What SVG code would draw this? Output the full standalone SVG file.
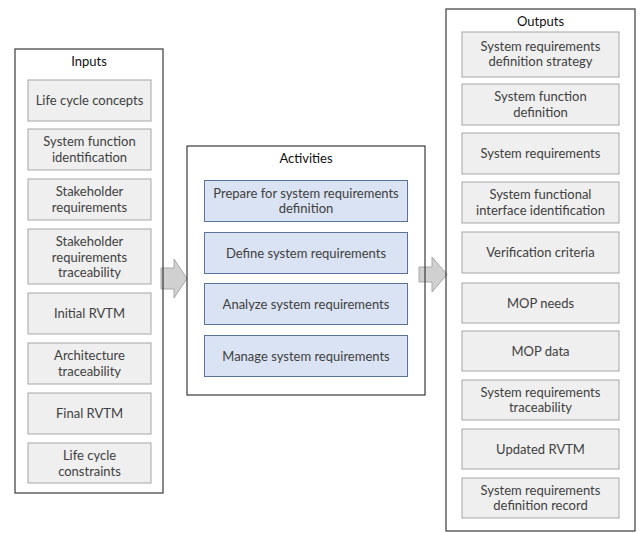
<svg xmlns="http://www.w3.org/2000/svg" width="642" height="533" viewBox="0 0 642 533">
<style>
.outer{fill:none;stroke:#3a3a3a;stroke-width:1.2}
.item{fill:#efefef;stroke:#a6a6a6;stroke-width:1}
.act{fill:#dae3f3;stroke:#5b7397;stroke-width:1}
.t{font-family:Lato,"Liberation Sans",sans-serif;font-size:13px;fill:#404040;text-anchor:middle}
.title{font-family:Lato,"Liberation Sans",sans-serif;font-size:13px;fill:#111;text-anchor:middle}
.arrow{fill:#d0d0d0;stroke:#a8a8a8;stroke-width:1}
</style>
<rect width="642" height="533" fill="#fff"/>
<g id="connectors">
<polygon class="arrow" points="161,268 174,268 174,259 187,278.5 174,298 174,289 161,289"/>
<polygon class="arrow" points="419,267 432,267 432,257 447,274.5 432,292 432,282 419,282"/>
</g>
<g id="inputs">
<rect class="outer" x="15" y="49" width="148" height="444"/>
<text class="title" x="89" y="66">Inputs</text>
</g>
<g id="in1"><rect class="item" x="28" y="80" width="123" height="41"/><text class="t" x="89.5" y="105">Life cycle concepts</text></g>
<g id="in2"><rect class="item" x="28" y="129" width="123" height="41"/><text class="t" x="89.5" y="146">System function</text><text class="t" x="89.5" y="161.5">identification</text></g>
<g id="in3"><rect class="item" x="28" y="179" width="123" height="41"/><text class="t" x="89.5" y="196">Stakeholder</text><text class="t" x="89.5" y="211.5">requirements</text></g>
<g id="in4"><rect class="item" x="28" y="229" width="123" height="55"/><text class="t" x="89.5" y="246">Stakeholder</text><text class="t" x="89.5" y="261.5">requirements</text><text class="t" x="89.5" y="277">traceability</text></g>
<g id="in5"><rect class="item" x="28" y="293" width="123" height="41"/><text class="t" x="89.5" y="318">Initial RVTM</text></g>
<g id="in6"><rect class="item" x="28" y="343" width="123" height="41"/><text class="t" x="89.5" y="360">Architecture</text><text class="t" x="89.5" y="375.5">traceability</text></g>
<g id="in7"><rect class="item" x="28" y="393" width="123" height="41"/><text class="t" x="89.5" y="418">Final RVTM</text></g>
<g id="in8"><rect class="item" x="28" y="443" width="123" height="40"/><text class="t" x="89.5" y="460">Life cycle</text><text class="t" x="89.5" y="475.5">constraints</text></g>
<g id="activities">
<rect class="outer" x="187" y="146" width="238" height="249"/>
<text class="title" x="306" y="163">Activities</text>
</g>
<g id="a1"><rect class="act" x="204.5" y="180.5" width="203" height="41"/><text class="t" x="306" y="198">Prepare for system requirements</text><text class="t" x="306" y="213">definition</text></g>
<g id="a2"><rect class="act" x="204.5" y="232.5" width="203" height="41"/><text class="t" x="306" y="257.5">Define system requirements</text></g>
<g id="a3"><rect class="act" x="204.5" y="283.5" width="203" height="41"/><text class="t" x="306" y="308.5">Analyze system requirements</text></g>
<g id="a4"><rect class="act" x="204.5" y="335.5" width="203" height="41"/><text class="t" x="306" y="360.5">Manage system requirements</text></g>
<g id="outputs">
<rect class="outer" x="446" y="9" width="189" height="522"/>
<text class="title" x="540.5" y="26">Outputs</text>
</g>
<g id="o1"><rect class="item" x="462" y="32" width="157" height="45"/><text class="t" x="540.5" y="50.5">System requirements</text><text class="t" x="540.5" y="66">definition strategy</text></g>
<g id="o2"><rect class="item" x="462" y="84" width="157" height="41"/><text class="t" x="540.5" y="101">System function</text><text class="t" x="540.5" y="116.5">definition</text></g>
<g id="o3"><rect class="item" x="462" y="133" width="157" height="41"/><text class="t" x="540.5" y="158">System requirements</text></g>
<g id="o4"><rect class="item" x="462" y="182" width="157" height="41"/><text class="t" x="540.5" y="199">System functional</text><text class="t" x="540.5" y="214.5">interface identification</text></g>
<g id="o5"><rect class="item" x="462" y="232" width="157" height="41"/><text class="t" x="540.5" y="257">Verification criteria</text></g>
<g id="o6"><rect class="item" x="462" y="283" width="157" height="40"/><text class="t" x="540.5" y="307.5">MOP needs</text></g>
<g id="o7"><rect class="item" x="462" y="331" width="157" height="40"/><text class="t" x="540.5" y="355.5">MOP data</text></g>
<g id="o8"><rect class="item" x="462" y="380" width="157" height="40"/><text class="t" x="540.5" y="396.5">System requirements</text><text class="t" x="540.5" y="412">traceability</text></g>
<g id="o9"><rect class="item" x="462" y="429" width="157" height="40"/><text class="t" x="540.5" y="453.5">Updated RVTM</text></g>
<g id="o10"><rect class="item" x="462" y="478" width="157" height="40"/><text class="t" x="540.5" y="494.5">System requirements</text><text class="t" x="540.5" y="510">definition record</text></g>
</svg>
